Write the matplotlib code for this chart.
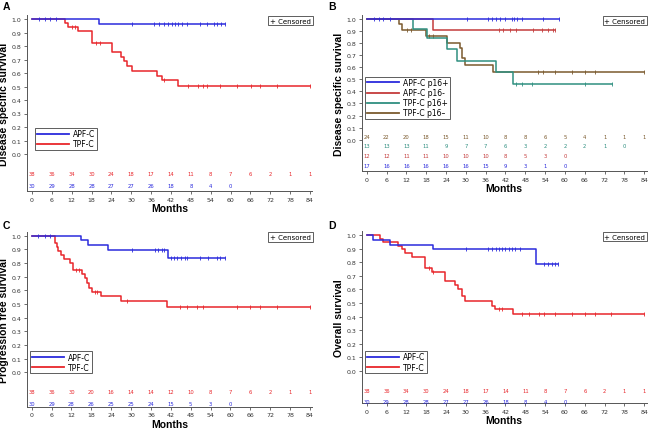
import numpy as np
import matplotlib
matplotlib.use('Agg')
import matplotlib.pyplot as plt
from matplotlib.lines import Line2D

W, H = 650, 431

MONTHS = list(range(0, 85, 6))

BLUE = '#2b2bdc'
RED = '#e8262b'
DRED = '#c43c3c'
TEAL = '#2f8f80'
BROWN = '#7b5a2e'

# ---- Panel A: disease specific survival ----
A_APF_T = [0, 20.3]
A_APF_S = [1.0, 0.966]
A_APF_END = 58.4
A_APF_CENS = [2.2, 3.9, 5.4, 7.2, 30.1, 37, 38.5, 39.9, 41.2, 42.2, 43.2, 44.2,
              45.4, 46.7, 50.8, 53, 55, 56, 57.2, 58.4]
A_TPF_T = [0, 10, 11, 13.8, 18, 24.1, 26.9, 27.9, 28.8, 30.1, 37.9, 39.2, 44]
A_TPF_S = [1.0, 0.97, 0.94, 0.91, 0.82, 0.755, 0.72, 0.69, 0.655, 0.615, 0.58, 0.545, 0.505]
A_TPF_END = 84
A_TPF_CENS = [12, 13, 19.3, 20.5, 40, 47, 50.2, 51.7, 53, 56.8, 61.8, 66.3, 68.9, 73.9, 84]
A_RISK_TPF = [38, 36, 34, 30, 24, 18, 17, 14, 11, 8, 7, 6, 2, 1, 1]
A_RISK_APF = [30, 29, 28, 28, 27, 27, 26, 18, 8, 4, 0]

# ---- Panel B: disease specific survival by p16 ----
B_APFP_T = [0]
B_APFP_S = [1.0]
B_APFP_END = 58.3
B_APFP_CENS = [2.2, 3.8, 5, 7, 30.3, 36.8, 38, 39, 40.3, 42, 43.9, 44.7, 45.5, 46.9, 53.2, 58.3]
B_APFN_T = [0, 20.2]
B_APFN_S = [1.0, 0.91]
B_APFN_END = 57
B_APFN_CENS = [40.1, 41.1, 43.5, 45.1, 50.4, 53, 55, 56.3, 57]
B_TPFP_T = [0, 14.1, 18.2, 24.2, 27.2, 39.1, 44.2]
B_TPFP_S = [1.0, 0.92, 0.846, 0.75, 0.65, 0.56, 0.465]
B_TPFP_END = 74.1
B_TPFP_CENS = [45.3, 46.9, 50.1, 66, 74.1]
B_TPFN_T = [0, 9.8, 10.8, 17.9, 24.2, 28.2, 28.7, 29.8, 38.3]
B_TPFN_S = [1.0, 0.955, 0.91, 0.86, 0.805, 0.76, 0.68, 0.62, 0.56]
B_TPFN_END = 84
B_TPFN_CENS = [12.1, 13.4, 19, 20, 51.9, 53.2, 57, 62, 66, 69, 84]
B_RISK_TPFN = [24, 22, 20, 18, 15, 11, 10, 8, 8, 6, 5, 4, 1, 1, 1]
B_RISK_TPFP = [13, 13, 13, 11, 9, 7, 7, 6, 3, 2, 2, 2, 1, 0]
B_RISK_APFN = [12, 12, 11, 11, 10, 10, 10, 8, 5, 3, 0]
B_RISK_APFP = [17, 16, 16, 16, 16, 16, 15, 9, 3, 1, 0]

# ---- Panel C: progression free survival ----
C_APF_T = [0, 14.9, 17.1, 23.1, 41]
C_APF_S = [1.0, 0.966, 0.93, 0.895, 0.84]
C_APF_END = 58.3
C_APF_CENS = [2, 4, 5.5, 30.2, 37.2, 38.2, 39.2, 40, 42, 43, 44, 45, 46.2, 47,
              50.8, 53.1, 55.8, 56.8, 58.3]
C_TPF_T = [0, 7.0, 7.5, 8.0, 8.9, 9.8, 11.6, 12.4, 15.1, 16.1, 16.8, 17.4, 18.1, 20.9, 26.9, 40.7]
C_TPF_S = [1.0, 0.945, 0.92, 0.89, 0.86, 0.83, 0.80, 0.75, 0.72, 0.69, 0.655, 0.62, 0.59,
           0.555, 0.52, 0.48]
C_TPF_END = 84
C_TPF_CENS = [13.4, 14.4, 19.1, 19.6, 28.7, 44.8, 47, 49.8, 51.8, 61.9, 65.9, 68.9, 73.9, 84]
C_RISK_TPF = [38, 36, 30, 20, 16, 14, 14, 12, 10, 8, 7, 6, 2, 1, 1]
C_RISK_APF = [30, 29, 28, 26, 25, 25, 24, 15, 5, 3, 0]

# ---- Panel D: overall survival ----
D_APF_T = [0, 1.8, 7.1, 20, 51.1]
D_APF_S = [1.0, 0.966, 0.93, 0.9, 0.785]
D_APF_END = 58
D_APF_CENS = [30, 36.8, 38, 39, 40, 41, 42, 43, 44, 45, 46.5, 53.5, 55, 56, 57, 58]
D_TPF_T = [0, 4, 5, 9.6, 10.6, 11.6, 13.6, 17.6, 19.7, 23.7, 26.7, 27.7, 28.7, 29.8,
           37.8, 38.8, 44.2]
D_TPF_S = [1.0, 0.974, 0.947, 0.92, 0.895, 0.868, 0.84, 0.76, 0.725, 0.66, 0.63, 0.6,
           0.55, 0.515, 0.48, 0.455, 0.42]
D_TPF_END = 84
D_TPF_CENS = [19, 20.2, 40, 41, 47, 49, 52, 53.5, 57, 62, 66, 69, 74, 84]
D_RISK_TPF = [38, 36, 34, 30, 24, 18, 17, 14, 11, 8, 7, 6, 2, 1, 1]
D_RISK_APF = [30, 29, 28, 28, 27, 27, 26, 18, 8, 4, 0]

TICK_FONT = 'DejaVu Sans'
LABEL_FONT = 'Liberation Sans'

fig = plt.figure(figsize=(W / 100, H / 100), dpi=100)


def make_panel(x0, x84, y1, y0, ybot, ylabel, letter, letter_xy):
    # pixel positions of month 0 / 84, survival 1.0 / 0.0 and the bottom spine
    pxm = (x84 - x0) / 84
    pxu = y0 - y1
    xmin, xmax, ytop = -1.5, 84.7, 1.03
    left = x0 + xmin * pxm
    right = x0 + xmax * pxm
    top = y1 - (ytop - 1) * pxu
    ylo = -(ybot - y0) / pxu
    ax = fig.add_axes([left / W, 1 - ybot / H, (right - left) / W, (ybot - top) / H])
    ax.set_xlim(xmin, xmax)
    ax.set_ylim(ylo, ytop)
    for s in ['top', 'right']:
        ax.spines[s].set_visible(False)
    for s in ['left', 'bottom']:
        ax.spines[s].set_color('#555555')
        ax.spines[s].set_linewidth(0.7)
    ax.set_xticks(MONTHS)
    ax.set_yticks(np.round(np.arange(0, 1.01, 0.1), 1))
    ax.set_yticklabels([f'{v:.1f}' for v in np.arange(0, 1.01, 0.1)])
    ax.tick_params(axis='both', labelsize=4.5, length=2.5, width=0.6, color='#555555',
                   pad=1.5, labelcolor='#333333')
    for lab in ax.get_xticklabels() + ax.get_yticklabels():
        lab.set_family(TICK_FONT)
    ax.set_xlabel('Months', fontsize=7.5, fontweight='bold', family=LABEL_FONT, labelpad=1)
    ax.set_ylabel(ylabel, fontsize=7.5, fontweight='bold', family=LABEL_FONT, labelpad=2)
    fig.text(letter_xy[0] / W, 1 - letter_xy[1] / H, letter, fontsize=7.5,
             fontweight='bold', family=LABEL_FONT, va='top', ha='left')
    # "+ Censored" box
    ax.text(0.995, 0.985, '+ Censored', transform=ax.transAxes, ha='right', va='top',
            fontsize=5, family=TICK_FONT,
            bbox=dict(boxstyle='square,pad=0.25', fc='white', ec='#444444', lw=0.6))
    return ax


def km(ax, t, s, end, cens, color):
    xs = list(t) + [end]
    ys = list(s) + [s[-1]]
    ax.step(xs, ys, where='post', color=color, lw=1.1)
    idx = np.searchsorted(t, cens, side='right') - 1
    cy = [s[i] for i in idx]
    ax.plot(cens, cy, ls='none', marker='|', ms=3.2, mew=0.6, color=color)


def risk(ax, values, y, color):
    for m, v in zip(MONTHS, values):
        ax.text(m, y, str(v), ha='center', va='center', fontsize=3.8, color=color,
                family=TICK_FONT)


def legend(ax, labels, colors, anchor):
    handles = [Line2D([], [], color=c, lw=1.3) for c in colors]
    leg = ax.legend(handles, labels, loc='lower left', bbox_to_anchor=anchor,
                    fontsize=5.5, handlelength=4.2, handletextpad=0.6, borderpad=0.2,
                    labelspacing=0.15, fancybox=False, framealpha=1, borderaxespad=0)
    leg.get_frame().set_edgecolor('#444444')
    leg.get_frame().set_linewidth(0.6)
    for txt in leg.get_texts():
        txt.set_family(TICK_FONT)


# A
axA = make_panel(32, 310, 20, 155, 192, 'Disease specific survival', 'A', (3, 2))
km(axA, A_TPF_T, A_TPF_S, A_TPF_END, A_TPF_CENS, RED)
km(axA, A_APF_T, A_APF_S, A_APF_END, A_APF_CENS, BLUE)
risk(axA, A_RISK_TPF, -0.141, RED)
risk(axA, A_RISK_APF, -0.23, BLUE)
legend(axA, ['APF-C', 'TPF-C'], [BLUE, RED], (0.028, 0.233))

# B
axB = make_panel(366.7, 644.3, 20, 140.7, 172, 'Disease specific survival', 'B', (328, 2))
km(axB, B_TPFN_T, B_TPFN_S, B_TPFN_END, B_TPFN_CENS, BROWN)
km(axB, B_TPFP_T, B_TPFP_S, B_TPFP_END, B_TPFP_CENS, TEAL)
km(axB, B_APFN_T, B_APFN_S, B_APFN_END, B_APFN_CENS, DRED)
km(axB, B_APFP_T, B_APFP_S, B_APFP_END, B_APFP_CENS, BLUE)
risk(axB, B_RISK_TPFN, 0.025, BROWN)
risk(axB, B_RISK_TPFP, -0.05, TEAL)
risk(axB, B_RISK_APFN, -0.13, DRED)
risk(axB, B_RISK_APFP, -0.21, BLUE)
legend(axB, ['APF-C p16+', 'APF-C p16-', 'TPF-C p16+', 'TPF-C p16\u2013'],
       [BLUE, DRED, TEAL, BROWN], (0.012, 0.334))

# C
axC = make_panel(31.7, 310, 236.7, 373.3, 407.7, 'Progression free survival', 'C', (3, 221))
km(axC, C_TPF_T, C_TPF_S, C_TPF_END, C_TPF_CENS, RED)
km(axC, C_APF_T, C_APF_S, C_APF_END, C_APF_CENS, BLUE)
risk(axC, C_RISK_TPF, -0.139, RED)
risk(axC, C_RISK_APF, -0.225, BLUE)
legend(axC, ['APF-C', 'TPF-C'], [BLUE, RED], (0.012, 0.19))

# D
axD = make_panel(366.7, 644.3, 236, 372, 404, 'Overall survival', 'D', (328, 221))
km(axD, D_TPF_T, D_TPF_S, D_TPF_END, D_TPF_CENS, RED)
km(axD, D_APF_T, D_APF_S, D_APF_END, D_APF_CENS, BLUE)
risk(axD, D_RISK_TPF, -0.147, RED)
risk(axD, D_RISK_APF, -0.223, BLUE)
legend(axD, ['APF-C', 'TPF-C'], [BLUE, RED], (0.012, 0.174))

fig.savefig('out.png', dpi=100)
